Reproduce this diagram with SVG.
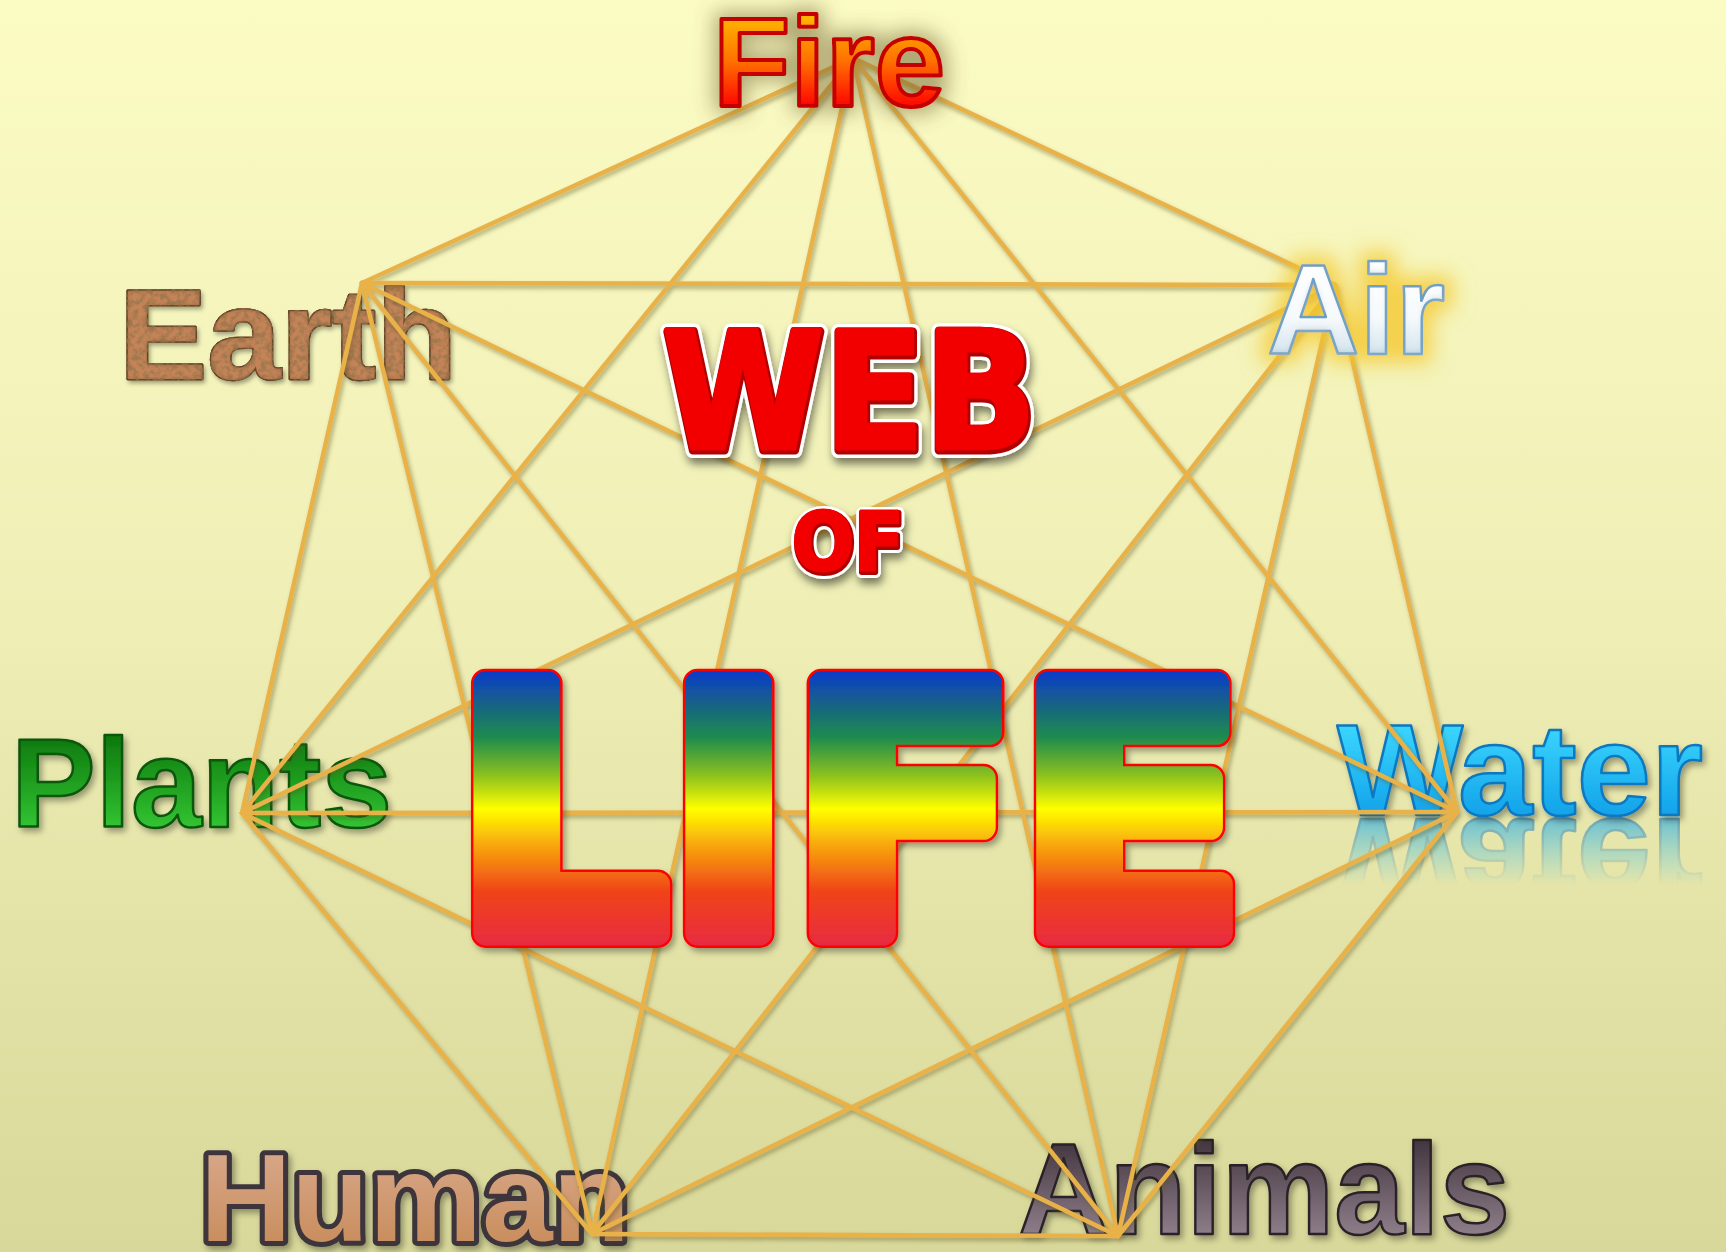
<svg xmlns="http://www.w3.org/2000/svg" xmlns:xlink="http://www.w3.org/1999/xlink" width="1726" height="1252" viewBox="0 0 1726 1252">
<defs>
  <style>
    .lbl { font-family: "Liberation Sans", Arial, sans-serif; font-weight: bold; stroke-linejoin: round; }
    .big { font-family: "DejaVu Sans", "Liberation Sans", sans-serif; font-weight: bold; stroke-linejoin: round; }
    .web line { stroke: #E8B24A; stroke-width: 4.5; stroke-linecap: round; }
  </style>
  <linearGradient id="bg" x1="0" y1="0" x2="0" y2="1">
    <stop offset="0" stop-color="#FBFBC4"/>
    <stop offset="0.5" stop-color="#EEEEB5"/>
    <stop offset="1" stop-color="#D8D89A"/>
  </linearGradient>
  <linearGradient id="fireG" x1="0" y1="15" x2="0" y2="108" gradientUnits="userSpaceOnUse">
    <stop offset="0" stop-color="#FFB800"/>
    <stop offset="0.5" stop-color="#FF7000"/>
    <stop offset="1" stop-color="#FF0000"/>
  </linearGradient>
  <linearGradient id="airG" x1="0" y1="262" x2="0" y2="355" gradientUnits="userSpaceOnUse">
    <stop offset="0" stop-color="#FFFFFF"/>
    <stop offset="0.6" stop-color="#F6FAFC"/>
    <stop offset="1" stop-color="#D4E4EE"/>
  </linearGradient>
  <linearGradient id="plantG" x1="0" y1="733" x2="0" y2="828" gradientUnits="userSpaceOnUse">
    <stop offset="0" stop-color="#0C760C"/>
    <stop offset="1" stop-color="#32C432"/>
  </linearGradient>
  <linearGradient id="waterG" x1="0" y1="722" x2="0" y2="816" gradientUnits="userSpaceOnUse">
    <stop offset="0" stop-color="#3CD8FF"/>
    <stop offset="1" stop-color="#12A2EA"/>
  </linearGradient>
  <linearGradient id="humanG" x1="0" y1="1148" x2="0" y2="1242" gradientUnits="userSpaceOnUse">
    <stop offset="0" stop-color="#D8A88A"/>
    <stop offset="1" stop-color="#C98E5E"/>
  </linearGradient>
  <linearGradient id="animalG" x1="0" y1="1140" x2="0" y2="1235" gradientUnits="userSpaceOnUse">
    <stop offset="0" stop-color="#43363F"/>
    <stop offset="1" stop-color="#8E7E8A"/>
  </linearGradient>
  <linearGradient id="lifeG" x1="0" y1="672" x2="0" y2="946" gradientUnits="userSpaceOnUse">
    <stop offset="0" stop-color="#0E3CC8"/>
    <stop offset="0.14" stop-color="#176A7A"/>
    <stop offset="0.24" stop-color="#1E8C4E"/>
    <stop offset="0.38" stop-color="#8EC21E"/>
    <stop offset="0.5" stop-color="#FFFF00"/>
    <stop offset="0.63" stop-color="#F8A80C"/>
    <stop offset="0.8" stop-color="#F04418"/>
    <stop offset="1" stop-color="#E82A42"/>
  </linearGradient>
  <linearGradient id="reflFade" x1="0" y1="816" x2="0" y2="885" gradientUnits="userSpaceOnUse">
    <stop offset="0" stop-color="#FFFFFF" stop-opacity="0.6"/>
    <stop offset="1" stop-color="#FFFFFF" stop-opacity="0"/>
  </linearGradient>
  <mask id="reflMask" maskUnits="userSpaceOnUse" x="1300" y="812" width="426" height="90">
    <rect x="1300" y="812" width="426" height="90" fill="url(#reflFade)"/>
  </mask>
  <filter id="lineShadow" x="-5%" y="-5%" width="110%" height="110%">
    <feDropShadow dx="2" dy="3" stdDeviation="2" flood-color="#5A5228" flood-opacity="0.45"/>
  </filter>
  <filter id="shadow" x="-10%" y="-20%" width="120%" height="150%">
    <feDropShadow dx="3" dy="4" stdDeviation="3" flood-color="#000000" flood-opacity="0.35"/>
  </filter>
  <filter id="fireGlow" x="-25%" y="-60%" width="150%" height="220%">
    <feMorphology in="SourceAlpha" operator="dilate" radius="5" result="d"/>
    <feGaussianBlur in="d" stdDeviation="10" result="b"/>
    <feFlood flood-color="#6A5A28" flood-opacity="0.5"/>
    <feComposite in2="b" operator="in" result="s"/>
    <feMerge><feMergeNode in="s"/><feMergeNode in="SourceGraphic"/></feMerge>
  </filter>
  <filter id="airGlow" x="-30%" y="-50%" width="160%" height="200%">
    <feMorphology in="SourceAlpha" operator="dilate" radius="8" result="d"/>
    <feGaussianBlur in="d" stdDeviation="10" result="b"/>
    <feFlood flood-color="#F5C628" flood-opacity="0.75"/>
    <feComposite in2="b" operator="in" result="s"/>
    <feGaussianBlur in="SourceAlpha" stdDeviation="3" result="ib"/>
    <feOffset in="ib" dx="0" dy="-3" result="io"/>
    <feComposite in="SourceAlpha" in2="io" operator="out" result="inner"/>
    <feFlood flood-color="#9AB8C8" flood-opacity="0.55"/>
    <feComposite in2="inner" operator="in" result="innerC"/>
    <feMerge><feMergeNode in="s"/><feMergeNode in="SourceGraphic"/><feMergeNode in="innerC"/></feMerge>
  </filter>
  <filter id="earthTex" x="-5%" y="-10%" width="112%" height="130%">
    <feTurbulence type="fractalNoise" baseFrequency="0.18" numOctaves="3" seed="7" result="n"/>
    <feColorMatrix in="n" type="matrix" values="0 0 0 0 0.36  0 0 0 0 0.19  0 0 0 0 0.08  3.2 0 0 0 -1.25" result="spots"/>
    <feComposite in="spots" in2="SourceAlpha" operator="in" result="sp"/>
    <feGaussianBlur in="SourceAlpha" stdDeviation="2.5" result="ib"/>
    <feComposite in="SourceAlpha" in2="ib" operator="out" result="edge"/>
    <feFlood flood-color="#4A2E18" flood-opacity="0.7"/>
    <feComposite in2="edge" operator="in" result="edgeC"/>
    <feDropShadow in="SourceAlpha" dx="2" dy="3" stdDeviation="2" flood-color="#000" flood-opacity="0.35" result="ds"/>
    <feMerge><feMergeNode in="ds"/><feMergeNode in="SourceGraphic"/><feMergeNode in="sp"/><feMergeNode in="edgeC"/></feMerge>
  </filter>
  <filter id="webShadow" x="-10%" y="-20%" width="120%" height="150%">
    <feDropShadow dx="2" dy="6" stdDeviation="4" flood-color="#000000" flood-opacity="0.5"/>
  </filter>
</defs>

<rect x="0" y="0" width="1726" height="1252" fill="url(#bg)"/>

<!-- labels drawn beneath the connectors -->
<g id="node-earth" filter="url(#earthTex)">
  <text class="lbl" x="119" y="379" font-size="128" textLength="338" lengthAdjust="spacingAndGlyphs" fill="#C48458" stroke="#6E4C30" stroke-width="2.5" paint-order="stroke">Earth</text>
</g>
<g id="node-plants" filter="url(#shadow)">
  <text class="lbl" x="11" y="827" font-size="126" textLength="381" lengthAdjust="spacingAndGlyphs" fill="url(#plantG)" stroke="#0A560A" stroke-width="2.5">Plants</text>
</g>
<g id="node-water">
  <g mask="url(#reflMask)">
    <use xlink:href="#waterText" href="#waterText" transform="translate(0,1634) scale(1,-1)"/>
  </g>
  <g filter="url(#shadow)">
    <text id="waterText" class="lbl" x="1337" y="815" font-size="130" textLength="366" lengthAdjust="spacingAndGlyphs" fill="url(#waterG)" stroke="#0E78C0" stroke-width="2.5">Water</text>
  </g>
</g>
<g id="node-human" filter="url(#shadow)">
  <text class="lbl" x="200" y="1241" font-size="124" textLength="430" lengthAdjust="spacingAndGlyphs" fill="url(#humanG)" stroke="#3C363A" stroke-width="10" paint-order="stroke">Human</text>
</g>
<g id="node-animals" filter="url(#shadow)">
  <text class="lbl" x="1018" y="1234" font-size="130" textLength="492" lengthAdjust="spacingAndGlyphs" fill="url(#animalG)" stroke="#2A2228" stroke-width="2.5">Animals</text>
</g>

<g id="connectors" class="web" filter="url(#lineShadow)">
  <line x1="853" y1="58" x2="1335" y2="285"/>
  <line x1="853" y1="58" x2="1457" y2="812"/>
  <line x1="853" y1="58" x2="1118" y2="1236"/>
  <line x1="853" y1="58" x2="592" y2="1234"/>
  <line x1="853" y1="58" x2="242" y2="813"/>
  <line x1="853" y1="58" x2="362" y2="283"/>
  <line x1="1335" y1="285" x2="1457" y2="812"/>
  <line x1="1335" y1="285" x2="1118" y2="1236"/>
  <line x1="1335" y1="285" x2="592" y2="1234"/>
  <line x1="1335" y1="285" x2="242" y2="813"/>
  <line x1="1335" y1="285" x2="362" y2="283"/>
  <line x1="1457" y1="812" x2="1118" y2="1236"/>
  <line x1="1457" y1="812" x2="592" y2="1234"/>
  <line x1="1457" y1="812" x2="242" y2="813"/>
  <line x1="1457" y1="812" x2="362" y2="283"/>
  <line x1="1118" y1="1236" x2="592" y2="1234"/>
  <line x1="1118" y1="1236" x2="242" y2="813"/>
  <line x1="1118" y1="1236" x2="362" y2="283"/>
  <line x1="592" y1="1234" x2="242" y2="813"/>
  <line x1="592" y1="1234" x2="362" y2="283"/>
  <line x1="242" y1="813" x2="362" y2="283"/>
</g>

<!-- labels drawn above the connectors -->
<g id="node-fire" filter="url(#fireGlow)">
  <text class="lbl" x="713" y="106" font-size="126" textLength="232" lengthAdjust="spacingAndGlyphs" fill="url(#fireG)" stroke="#C40000" stroke-width="4">Fire</text>
</g>
<g id="node-air" filter="url(#airGlow)">
  <text class="lbl" x="1267" y="354" font-size="128" textLength="178" lengthAdjust="spacingAndGlyphs" fill="url(#airG)" stroke="#6C9EC2" stroke-width="2.5">Air</text>
</g>

<g id="title-web" filter="url(#webShadow)">
  <text class="big" x="663" y="450" font-size="162" textLength="374" lengthAdjust="spacingAndGlyphs" fill="#FFFFFF" stroke="#FFFFFF" stroke-width="16">WEB</text>
  <text class="big" x="663" y="450" font-size="162" textLength="374" lengthAdjust="spacingAndGlyphs" fill="#B00000" stroke="#B00000" stroke-width="9">WEB</text>
  <text class="big" x="662" y="448" font-size="162" textLength="374" lengthAdjust="spacingAndGlyphs" fill="#F20000" stroke="#F20000" stroke-width="5">WEB</text>
</g>
<g id="title-of" filter="url(#webShadow)">
  <text class="big" x="793" y="572" font-size="80" textLength="112" lengthAdjust="spacingAndGlyphs" fill="#FFFFFF" stroke="#FFFFFF" stroke-width="12">OF</text>
  <text class="big" x="793" y="572" font-size="80" textLength="112" lengthAdjust="spacingAndGlyphs" fill="#B00000" stroke="#B00000" stroke-width="6">OF</text>
  <text class="big" x="792" y="570" font-size="80" textLength="112" lengthAdjust="spacingAndGlyphs" fill="#F20000" stroke="#F20000" stroke-width="3">OF</text>
</g>
<g id="title-life" filter="url(#shadow)">
  <text class="big" x="455" y="933" font-size="342" textLength="790" lengthAdjust="spacingAndGlyphs" fill="#FF0000" stroke="#FF0000" stroke-width="30">LIFE</text>
  <text class="big" x="455" y="933" font-size="342" textLength="790" lengthAdjust="spacingAndGlyphs" fill="url(#lifeG)" stroke="url(#lifeG)" stroke-width="25">LIFE</text>
</g>
</svg>
